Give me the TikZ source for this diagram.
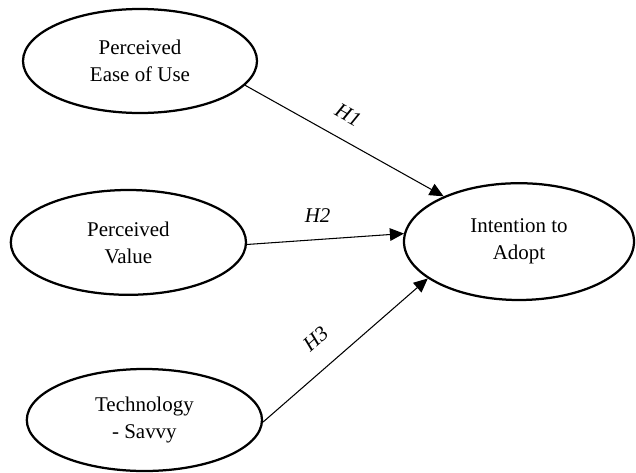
\documentclass[tikz,border=0pt]{standalone}
\usepackage{fontspec}
\setmainfont{Liberation Serif}
\usetikzlibrary{arrows.meta,shapes.geometric}

\begin{document}
\begin{tikzpicture}[
  >={Triangle[length=10pt,width=9pt]},
  cons/.style={ellipse,draw,line width=1.6pt,inner sep=0pt,align=center,
    font=\fontsize{14.9}{19.2}\selectfont},
  hyp/.style={font=\fontsize{14.9}{18}\selectfont\itshape,inner sep=2pt},
  link/.style={->,line width=0.75pt}
]
  \useasboundingbox (0,0) rectangle (15.9,-11.8);

  % constructs
  \node[cons,minimum width=5.85cm,minimum height=2.6cm]  (peou) at (3.5,-1.525)   {Perceived\\Ease of Use};
  \node[cons,minimum width=5.88cm,minimum height=2.62cm] (pv)   at (3.21,-6.06)   {Perceived\\Value};
  \node[cons,minimum width=5.88cm,minimum height=2.55cm] (tech) at (3.61,-10.5)   {Technology\\- Savvy};
  \node[cons,minimum width=5.75cm,minimum height=2.92cm] (ia)   at (12.975,-6.04) {Intention to\\Adopt};

  % hypotheses
  \draw[link] (peou.-13) -- node[hyp,pos=0.46,sloped,above=10pt] {H1} (ia.149);
  \draw[link] (pv.-1.5)  -- node[hyp,pos=0.45,above=9.5pt] {H2} (ia.176);
  \draw[link] (tech.-1)  -- node[hyp,pos=0.43,sloped,above=12.5pt] {H3} (ia.202);
\end{tikzpicture}
\end{document}
